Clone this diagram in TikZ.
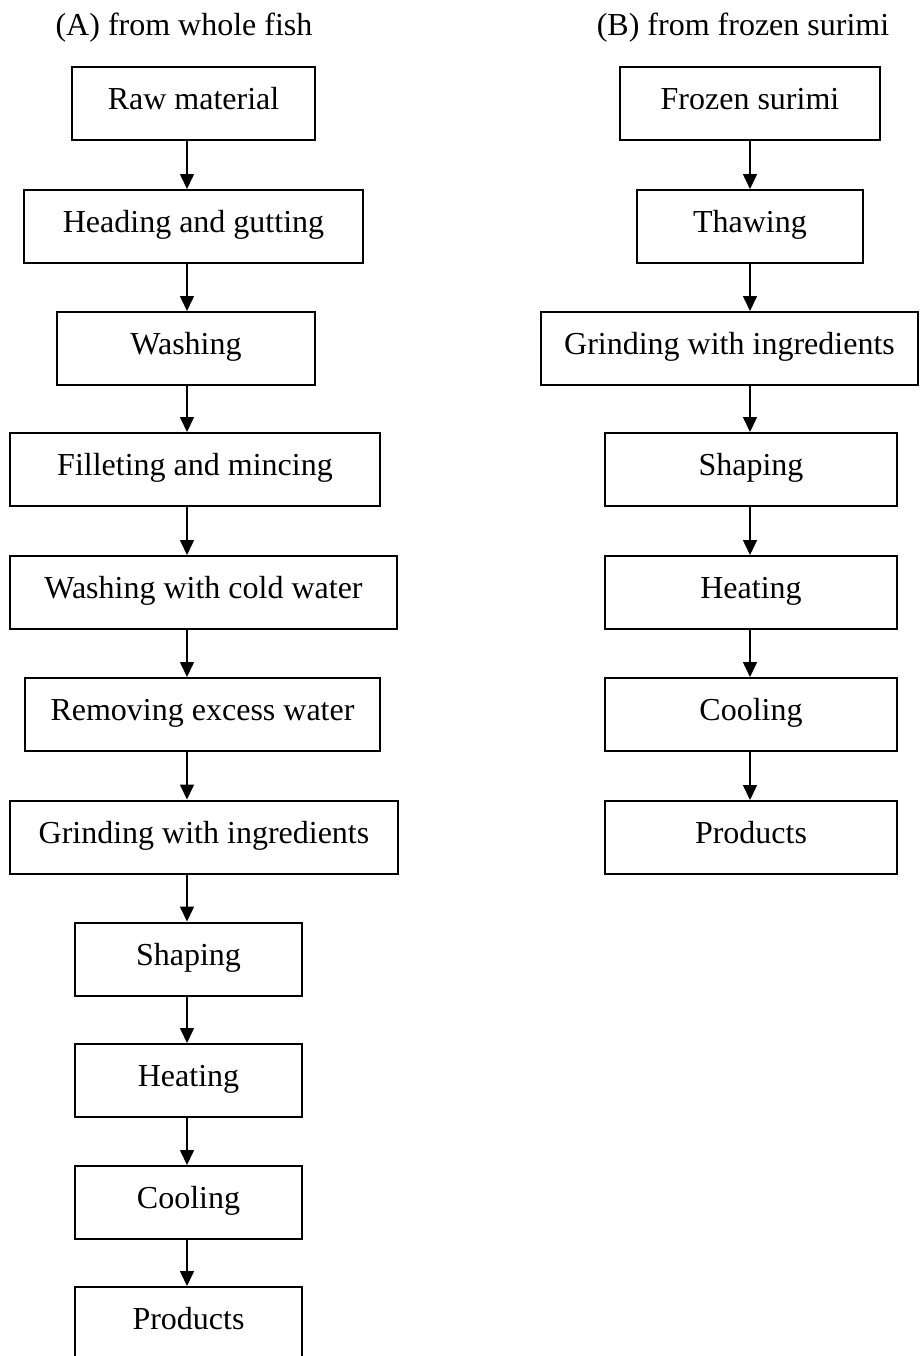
\documentclass[tikz,border=0pt]{standalone}
\usepackage{fontspec}
\setmainfont{Liberation Serif}
\usetikzlibrary{arrows.meta}
\tikzset{
  stage/.style={draw, line width=1pt, inner sep=0pt, minimum height=36.5pt,
    text height=11pt, text depth=5pt, font=\fontsize{16}{19}\selectfont},
  coltitle/.style={anchor=base, inner sep=0pt, font=\fontsize{16}{19}\selectfont},
  flow/.style={-{Triangle[width=7pt,length=7.5pt]}, line width=0.8pt}
}
\begin{document}
\begin{tikzpicture}[x=0.5pt, y=-0.5pt]
  \useasboundingbox (0,0) rectangle (920,1356);
  % Titles
  \node[coltitle] (titleA) at (184,35) {(A) from whole fish};
  \node[coltitle] (titleB) at (743,35) {(B) from frozen surimi};
  % Column A: from whole fish
  \node[stage, minimum width=121.5pt] (a1) at (193.5,103.5) {Raw material};
  \node[stage, minimum width=169.5pt] (a2) at (193.5,226.5) {Heading and gutting};
  \node[stage, minimum width=129pt] (a3) at (186,348.5) {Washing};
  \node[stage, minimum width=185pt] (a4) at (195,469.5) {Filleting and mincing};
  \node[stage, minimum width=193.5pt] (a5) at (203.5,592.5) {Washing with cold water};
  \node[stage, minimum width=177.5pt] (a6) at (202.5,714.5) {Removing excess water};
  \node[stage, minimum width=194pt] (a7) at (204,837) {Grinding with ingredients};
  \node[stage, minimum width=113.5pt] (a8) at (188.5,959) {Shaping};
  \node[stage, minimum width=113.5pt] (a9) at (188.5,1080.5) {Heating};
  \node[stage, minimum width=113.5pt] (a10) at (188.5,1202.5) {Cooling};
  \node[stage, minimum width=113.5pt] (a11) at (188.5,1323.5) {Products};
  % Column B: from frozen surimi
  \node[stage, minimum width=130pt] (b1) at (750,103.5) {Frozen surimi};
  \node[stage, minimum width=113pt] (b2) at (750,226.5) {Thawing};
  \node[stage, minimum width=188.5pt] (b3) at (729.5,348.5) {Grinding with ingredients};
  \node[stage, minimum width=146pt] (b4) at (751,469.5) {Shaping};
  \node[stage, minimum width=146pt] (b5) at (751,592.5) {Heating};
  \node[stage, minimum width=146pt] (b6) at (751,714.5) {Cooling};
  \node[stage, minimum width=146pt] (b7) at (751,837.5) {Products};
  % Arrow columns
  \coordinate (ax) at (187,0);
  \coordinate (bx) at (750,0);
  % Arrows A
  \draw[flow] (a1.south -| ax) -- (a2.north -| ax);
  \draw[flow] (a2.south -| ax) -- (a3.north -| ax);
  \draw[flow] (a3.south -| ax) -- (a4.north -| ax);
  \draw[flow] (a4.south -| ax) -- (a5.north -| ax);
  \draw[flow] (a5.south -| ax) -- (a6.north -| ax);
  \draw[flow] (a6.south -| ax) -- (a7.north -| ax);
  \draw[flow] (a7.south -| ax) -- (a8.north -| ax);
  \draw[flow] (a8.south -| ax) -- (a9.north -| ax);
  \draw[flow] (a9.south -| ax) -- (a10.north -| ax);
  \draw[flow] (a10.south -| ax) -- (a11.north -| ax);
  % Arrows B
  \draw[flow] (b1.south -| bx) -- (b2.north -| bx);
  \draw[flow] (b2.south -| bx) -- (b3.north -| bx);
  \draw[flow] (b3.south -| bx) -- (b4.north -| bx);
  \draw[flow] (b4.south -| bx) -- (b5.north -| bx);
  \draw[flow] (b5.south -| bx) -- (b6.north -| bx);
  \draw[flow] (b6.south -| bx) -- (b7.north -| bx);
\end{tikzpicture}
\end{document}
